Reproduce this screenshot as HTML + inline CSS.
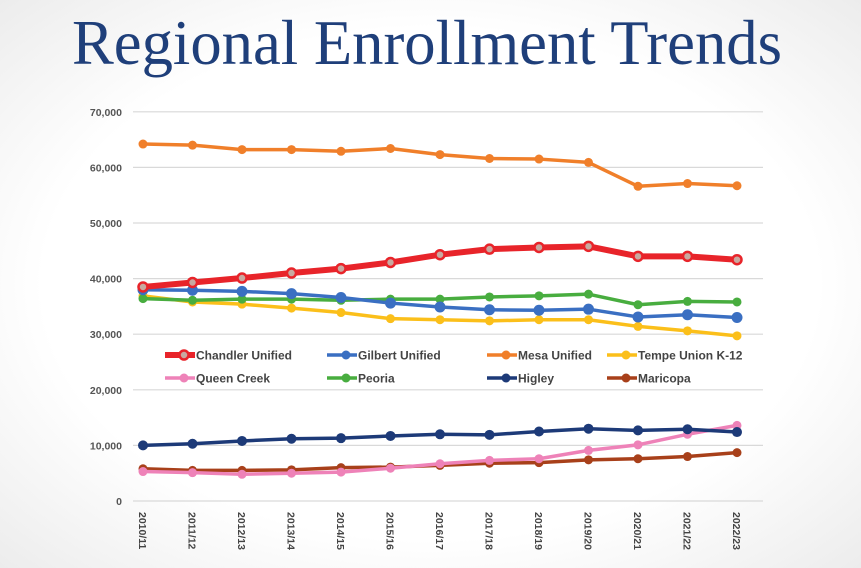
<!DOCTYPE html>
<html><head><meta charset="utf-8"><style>
body{margin:0;width:861px;height:568px;overflow:hidden;background:#fff}
svg{display:block}
</style></head><body>
<svg id="chart" width="861" height="568" viewBox="0 0 861 568" xmlns="http://www.w3.org/2000/svg">
<defs><radialGradient id="bg" cx="0.5" cy="0.5" r="0.75"><stop offset="0.6" stop-color="#ffffff"/><stop offset="1" stop-color="#e9e9e9"/></radialGradient></defs>
<rect width="861" height="568" fill="url(#bg)"/>
<text x="72" y="64" font-family="Liberation Serif, serif" font-size="64" fill="#1f3f7a" textLength="710" lengthAdjust="spacingAndGlyphs">Regional Enrollment Trends</text>
<g id="grid"></g><g id="series"></g><g id="legend"></g>
</svg>
<script>
const categories=["2010/11","2011/12","2012/13","2013/14","2014/15","2015/16","2016/17","2017/18","2018/19","2019/20","2020/21","2021/22","2022/23"];
const yTicks=[0,10000,20000,30000,40000,50000,60000,70000];
const mesa=[64200,64000,63200,63200,62900,63400,62300,61600,61500,60900,56600,57100,56700];
const chandler=[38500,39300,40100,41000,41800,42900,44300,45300,45600,45800,44000,44000,43400];
const gilbert=[38000,37900,37700,37300,36600,35600,34900,34400,34300,34500,33100,33500,33000];
const peoria=[36400,36100,36300,36300,36100,36300,36300,36700,36900,37200,35300,35900,35800];
const tempe=[36900,35800,35400,34700,33900,32800,32600,32400,32600,32600,31400,30600,29700];
const higley=[10000,10300,10800,11200,11300,11700,12000,11900,12500,13000,12700,12900,12400];
const queenCreek=[5300,5100,4800,5000,5200,5900,6700,7300,7600,9100,10100,12000,13600];
const maricopa=[5800,5500,5500,5600,6000,6100,6400,6800,6900,7400,7600,8000,8700];
const NS="http://www.w3.org/2000/svg";
const x=i=>143+i*49.5;
const y=v=>501-v/10000*55.6;
function mk(tag,attrs,parent){const e=document.createElementNS(NS,tag);for(const k in attrs)e.setAttribute(k,attrs[k]);parent.appendChild(e);return e;}
const grid=document.getElementById('grid');
yTicks.forEach(t=>{
 const l=mk('line',{x1:133,x2:763,y1:y(t),y2:y(t),stroke:'#d9d9d9','stroke-width':1.2},grid);
 
 
 const tx=mk('text',{x:122,y:y(t)+4,'text-anchor':'end','font-family':'Liberation Sans, sans-serif','font-size':10.5,'font-weight':'bold',fill:'#555'},grid);
 tx.textContent=t.toLocaleString('en-US');
 
 
});
categories.forEach((c,i)=>{
 const tx=mk('text',{transform:`translate(${x(i)-4},512) rotate(90)`,'font-family':'Liberation Sans, sans-serif','font-size':10.5,'font-weight':'bold',fill:'#444'},grid);
 tx.textContent=c;
 
 
});
const series=[
 {name:'Mesa Unified',d:mesa,c:'#f07f2a',w:3.5,r:4.5},
 {name:'Tempe Union K-12',d:tempe,c:'#fbbf1a',w:3.5,r:4.5},
 {name:'Peoria',d:peoria,c:'#48ad3f',w:3.5,r:4.5},
 {name:'Gilbert Unified',d:gilbert,c:'#3a6fc2',w:3.5,r:5.5},
 {name:'Chandler Unified',d:chandler,c:'#e8242a',w:6,r:4.5,hollow:true},
 {name:'Maricopa',d:maricopa,c:'#a8401a',w:3.5,r:4.5},
 {name:'Queen Creek',d:queenCreek,c:'#ee82b8',w:3.5,r:4.5},
 {name:'Higley',d:higley,c:'#1d3a78',w:3.5,r:5}
];
const sg=document.getElementById('series');
series.forEach(s=>{
 const g=mk('g',{},sg);
 
 
 const p=mk('polyline',{points:s.d.map((v,i)=>x(i)+','+y(v)).join(' '),fill:'none',stroke:s.c,'stroke-width':s.w,'stroke-linejoin':'round'},g);
 
 
 s.d.forEach((v,i)=>{
  const m=mk('circle',{cx:x(i),cy:y(v),r:s.r,fill:s.hollow?'#c9a9a0':s.c,stroke:s.c,'stroke-width':s.hollow?2.5:0},g);
  
  
 });
});
const legendItems=[
 {name:'Chandler Unified',c:'#e8242a',x:165,y:355,w:6,hollow:true},
 {name:'Gilbert Unified',c:'#3a6fc2',x:327,y:355,w:3.5},
 {name:'Mesa Unified',c:'#f07f2a',x:487,y:355,w:3.5},
 {name:'Tempe Union K-12',c:'#fbbf1a',x:607,y:355,w:3.5},
 {name:'Queen Creek',c:'#ee82b8',x:165,y:378,w:3.5},
 {name:'Peoria',c:'#48ad3f',x:327,y:378,w:3.5},
 {name:'Higley',c:'#1d3a78',x:487,y:378,w:3.5},
 {name:'Maricopa',c:'#a8401a',x:607,y:378,w:3.5}
];
const lg=document.getElementById('legend');
legendItems.forEach(it=>{
 const g=mk('g',{},lg);
 
 
 mk('line',{x1:it.x,x2:it.x+30,y1:it.y,y2:it.y,stroke:it.c,'stroke-width':it.w},g);
 mk('circle',{cx:it.x+19,cy:it.y,r:4.5,fill:it.hollow?'#c9a9a0':it.c,stroke:it.c,'stroke-width':it.hollow?2.5:0},g);
 const t=mk('text',{x:it.x+31,y:it.y+4.5,'font-family':'Liberation Sans, sans-serif','font-size':12,'font-weight':'bold',fill:'#444'},g);
 t.textContent=it.name;
});
</script>
</body></html>
